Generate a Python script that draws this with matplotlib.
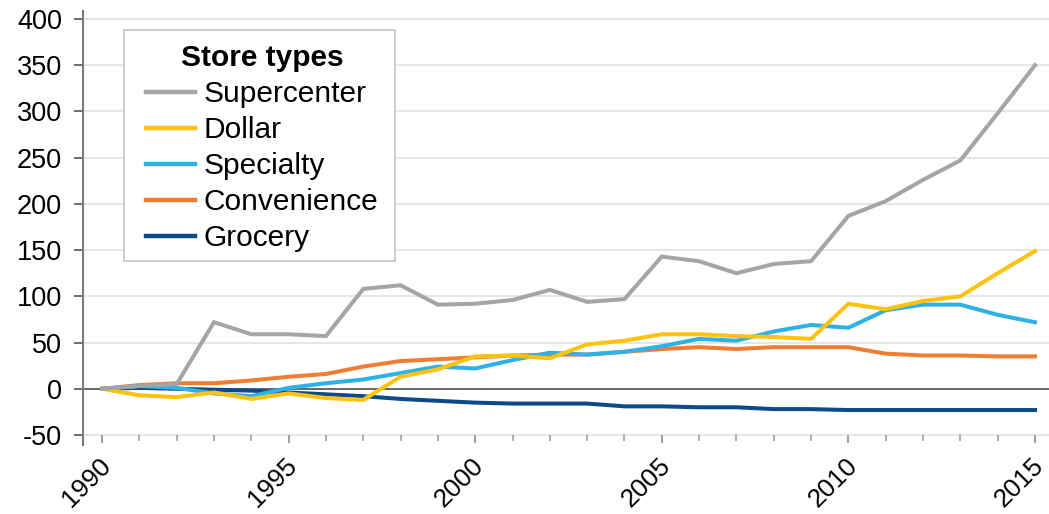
import matplotlib
matplotlib.use("Agg")
import matplotlib.pyplot as plt
from matplotlib.ticker import MultipleLocator
from matplotlib.patches import Rectangle
from matplotlib.transforms import ScaledTranslation

plt.rcParams['font.family'] = ['Liberation Sans', 'DejaVu Sans']

years = list(range(1990, 2016))
supercenter = [0, 3, 5, 72, 59, 59, 57, 108, 112, 91, 92, 96, 107, 94, 97, 143, 138, 125, 135, 138, 187, 203, 226, 247, 298, 350]
dollar = [0, -7, -9, -4, -11, -5, -10, -12, 13, 21, 35, 36, 33, 48, 52, 59, 59, 57, 56, 54, 92, 86, 95, 100, 125, 149]
specialty = [0, 3, 1, -5, -8, 1, 6, 10, 17, 24, 22, 31, 39, 37, 40, 46, 54, 52, 62, 69, 66, 85, 91, 91, 80, 72]
convenience = [0, 4, 6, 6, 9, 13, 16, 24, 30, 32, 34, 36, 37, 37, 40, 43, 45, 43, 45, 45, 45, 38, 36, 36, 35, 35]
grocery = [0, 1, 0, -1, -2, -4, -6, -8, -11, -13, -15, -16, -16, -16, -19, -19, -20, -20, -22, -22, -23, -23, -23, -23, -23, -23]

series_names = ["Supercenter", "Dollar", "Specialty", "Convenience", "Grocery"]
series_values = [supercenter, dollar, specialty, convenience, grocery]
series_colors = ["#a5a5a5", "#ffc20e", "#2eb1e6", "#ef7d33", "#0c4a8a"]

yticks = [-50, 0, 50, 100, 150, 200, 250, 300, 350, 400]
xticks = [1990, 1995, 2000, 2005, 2010, 2015]

W, H = 1049, 514
fig = plt.figure(figsize=(W/100, H/100), dpi=100)
ax = fig.add_axes([83/W, 1 - 445/H, 1 - 83/W, (445 - 11)/H])

handles = {}
for name, vals, col in reversed(list(zip(series_names, series_values, series_colors))):
    h, = ax.plot(years, vals, color=col, lw=2.9, solid_joinstyle='miter', zorder=3)
    handles[name] = h

ax.set_xlim(1990 - 19/37.32, 2015 + 14/37.32)
ax.set_ylim(-50 - 10/0.925, 400 + 8/0.925)

ax.set_yticks(yticks)
ax.set_yticklabels([str(v) for v in yticks])
ax.set_xticks(xticks)
ax.xaxis.set_minor_locator(MultipleLocator(1))

for v in yticks:
    if v != 0:
        ax.axhline(v, color="#e4e4e4", lw=1.3, zorder=1)
ax.axhline(0, color="#404040", lw=1.1, zorder=2)

for s in ['top', 'right']:
    ax.spines[s].set_visible(False)
ax.spines['bottom'].set_position(('data', -50))
ax.spines['bottom'].set_color('none')
ax.spines['left'].set_color('#7a7a7a')
ax.spines['left'].set_linewidth(1.5)

ax.tick_params(axis='y', which='major', length=6.5, width=1.2, color='#555555',
               labelsize=19.5, pad=8.5, labelcolor='black')
ax.tick_params(axis='x', which='major', length=6, width=1.3, color='#999999',
               labelsize=18.8, pad=7, labelcolor='black')
ax.tick_params(axis='x', which='minor', length=4.3, width=1.1, color='#999999')

offset = ScaledTranslation(10/100, -14/100, fig.dpi_scale_trans)
for lab in ax.get_xticklabels():
    lab.set_rotation(45)
    lab.set_rotation_mode('anchor')
    lab.set_ha('right')
    lab.set_va('baseline')
    lab.set_transform(lab.get_transform() + offset)

# legend box
box = Rectangle((124/W, 1 - 261/H), (395 - 124)/W, (261 - 30)/H, transform=fig.transFigure,
                facecolor='white', edgecolor='#c8c8c8', lw=1.3, zorder=4)
fig.patches.append(box)

leg = fig.legend([handles[n] for n in series_names], series_names,
                 title="Store types", loc='upper left',
                 bbox_to_anchor=(146/W, 1 - 44/H),
                 borderaxespad=0, borderpad=0, fontsize=21.5,
                 title_fontproperties={'weight': 'bold', 'size': 21.5},
                 frameon=False,
                 handlelength=1.64, handletextpad=0.3, labelspacing=0.27)
for line in leg.get_lines():
    line.set_linewidth(3.2)
leg.set_zorder(5)

fig.savefig("out.png", dpi=100)
